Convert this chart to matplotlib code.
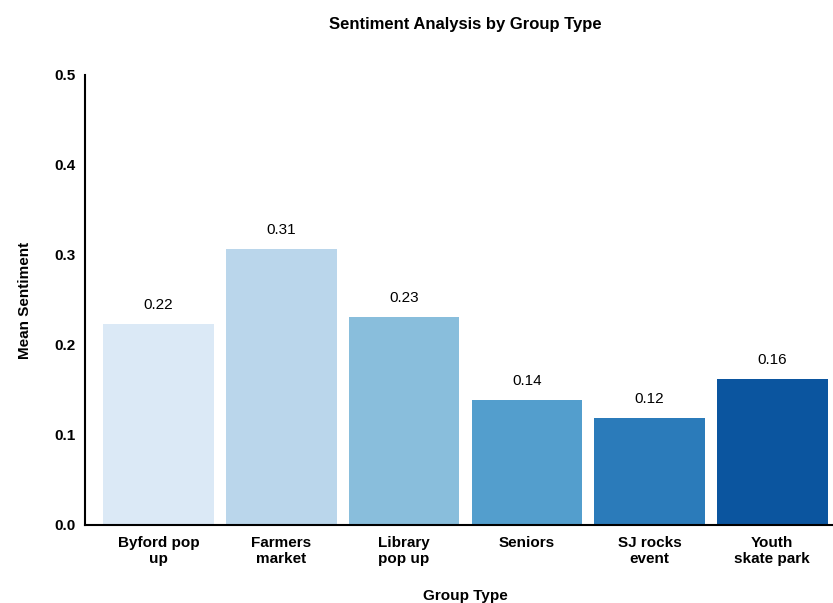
#!/usr/bin/env python3
"""Bar chart of mean sentiment per group type."""

import matplotlib

matplotlib.use("Agg")
import matplotlib.pyplot as plt
import seaborn as sns

GROUPS = [
    "Byford pop\nup",
    "Farmers\nmarket",
    "Library\npop up",
    "Seniors",
    "SJ rocks\nevent",
    "Youth\nskate park",
]
MEAN_SENTIMENT = [0.223, 0.307, 0.231, 0.139, 0.119, 0.162]
Y_TICKS = [0.0, 0.1, 0.2, 0.3, 0.4, 0.5]

plt.rcParams["font.family"] = ["Liberation Sans", "DejaVu Sans"]

fig = plt.figure(figsize=(8.33, 6.03), dpi=100)
axis = fig.add_axes([0.102, 0.1294, 0.9135, 0.7463])

colors = sns.color_palette("Blues", len(GROUPS))
positions = list(range(len(GROUPS)))
bars = axis.bar(positions, MEAN_SENTIMENT, width=0.9, color=colors)

for bar, value in zip(bars, MEAN_SENTIMENT):
    axis.annotate(
        f"{value:.2f}",
        (bar.get_x() + bar.get_width() / 2, value),
        xytext=(0, 8.5),
        textcoords="offset points",
        ha="center",
        va="bottom",
        fontsize=11,
    )

axis.set_xlim(-0.6, len(GROUPS) - 0.4)
axis.set_ylim(0, 0.5)
axis.set_yticks(Y_TICKS)
axis.set_yticklabels([f"{t:.1f}" for t in Y_TICKS], fontweight="bold")
axis.set_xticks(positions)
axis.set_xticklabels(GROUPS, fontweight="bold", fontsize=11, linespacing=1.15)
axis.tick_params(axis="both", length=0, labelsize=11)
axis.tick_params(axis="x", pad=8)
axis.tick_params(axis="y", pad=7)

for side in ("top", "right"):
    axis.spines[side].set_visible(False)
for side in ("left", "bottom"):
    axis.spines[side].set_linewidth(1.5)

axis.set_xlabel("Group Type", fontweight="bold", fontsize=11, labelpad=17)
axis.set_ylabel("Mean Sentiment", fontweight="bold", fontsize=11, labelpad=16)
axis.set_title("Sentiment Analysis by Group Type", fontweight="bold",
               fontsize=12, pad=33)

fig.savefig("out.png", dpi=100)
